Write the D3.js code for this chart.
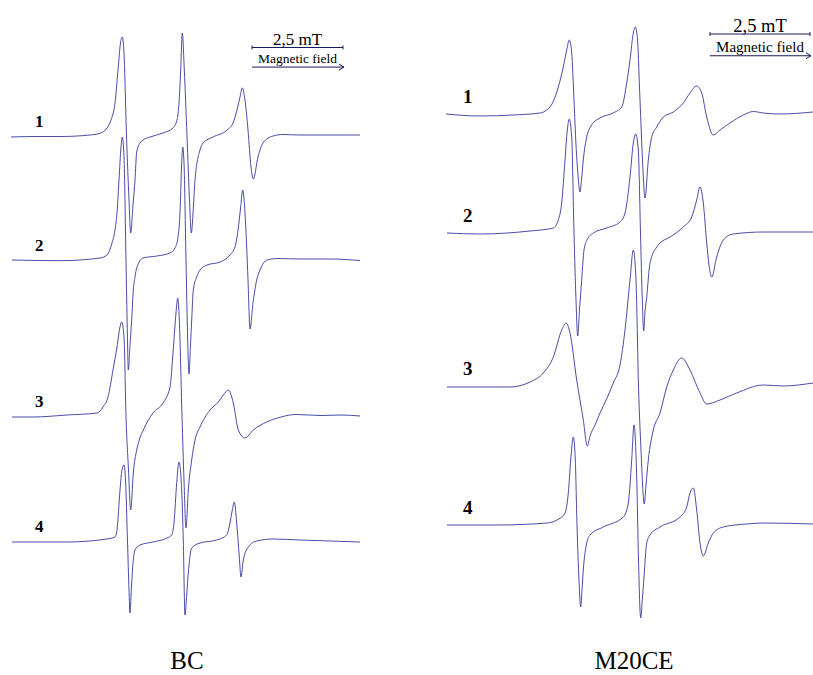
<!DOCTYPE html>
<html>
<head>
<meta charset="utf-8">
<script src="https://cdn.jsdelivr.net/npm/d3@7"></script>
<style>
  html, body { margin: 0; padding: 0; background: #fff; }
  svg { display: block; }
  text { font-family: "Liberation Serif", "Times New Roman", serif; fill: #000; }
</style>
</head>
<body>
<svg id="chart" width="813" height="675"></svg>
<script>
// EPR spectra: [field (channel), signal (a.u.)], baseline at 0.
// BC series
const bc1 = [[0,-1],[24,-0.5],[49,-0.5],[79,1],[89,2.7],[96,8],[100,16],[104,33],[107,66],[109.5,93],[111.3,99],[113,83],
  [115.5,0],[118,-64],[119.7,-97],[122,-69],[124,-44],[125.7,-16],[129,-7],[132,-4],[139,-1],[152,3],[162,8],[166,16],
  [168,33],[169.7,66],[171.3,103],[173.3,66],[176,0],[178.5,-64],[180.3,-97],[182.5,-69],[184,-44],[189,-14],[192,-7],
  [202,-1],[216,6],[222,13],[226,26],[229,39],[231.3,48],[234,36],[237,6],[240,-31],[242.3,-43],[247,-21],[252,-7],
  [262,0],[272,1.5],[289,1],[319,1],[349,1]];
const bc2 = [[1,0],[49,-0.7],[89,2],[96,5],[101,17],[104,30],[106,47],[108,80],[110,113],[111.3,123],[113,103],[115,0],
  [116.3,-70],[117.3,-110],[119,-85],[120.7,-60],[122.3,-30],[124,-17],[125.7,-8],[132,2],[146,4],[159,7],[164,12],
  [167,23],[169,47],[170.7,97],[171.7,113],[173,97],[175,0],[176.7,-80],[178,-114],[179.5,-85],[180.7,-60],[182.3,-30],
  [185.7,-17],[189,-10],[196,-5],[209,-2],[219,5],[224,13],[227,30],[229.7,53],[231.7,70],[234,47],[235.7,13],[237,-20],
  [239,-69],[242,-43],[245.7,-20],[249,-10],[256,0],[266,1.5],[289,1],[319,1],[349,-0.5]];
const bc3 = [[1,-1],[22,-1],[56,1],[86,3],[92,9],[97,19],[102,46],[106,69],[109,89],[110.7,94],[113,79],[115,0],
  [117.5,-54],[119.7,-94],[122.3,-57],[125.7,-34],[128.3,-24],[132.3,-14],[142,3],[152,13],[159,29],[162,63],[165,103],
  [166.7,118],[168.3,96],[171,0],[173,-64],[175,-112],[177.3,-74],[180.7,-44],[184,-24],[189,-11],[199,6],[207.3,14],
  [212.3,21],[217.3,26],[222.3,13],[227.3,-14],[234,-22],[242.3,-14],[255.7,-6],[270,-1],[285,1.5],[310,0.5],[330,1],[349,0]];
const bc4 = [[1,-1],[56,-1],[96,2],[104,4],[106,11],[109,51],[111,71],[113,76],[114.5,61],[116.5,0],[118,-49],[119,-72],
  [120.3,-49],[121.7,-26],[124,-9],[129,-4],[142,-1],[156,3],[160.7,6],[163,18],[165.7,58],[168,79],[170.7,51],[172.3,0],
  [174,-74],[175.7,-54],[177.3,-32],[180.7,-7],[189,-2],[205.7,1],[215.7,6],[219,18],[221.3,31],[223.3,39],[225.7,18],
  [228.3,-16],[230,-36],[232.3,-19],[237.3,-6],[245.7,0],[262,2],[289,1],[349,-1]];

// M20CE series
const m1 = [[0,0],[34,-2],[67,-1],[94,1],[100.7,4],[107,12],[112.3,27],[117.3,47],[120.7,64],[123.3,74],[125.7,61],
  [128,14],[130,-31],[132,-61],[134,-78],[135.7,-64],[137.3,-46],[140.7,-23],[145.7,-11],[154,-4],[167,1],[175.7,7],
  [180.7,31],[184,54],[187.3,81],[189.3,87],[191.3,77],[194,14],[196.5,-46],[199,-84],[202.3,-46],[205.7,-23],
  [210.7,-13],[217.3,-3],[227.3,2],[237.3,11],[244,21],[250.7,28],[255.7,21],[260.7,-3],[267.3,-21],[274,-16],[284,-9],
  [297.3,-1],[307.3,2.5],[317.3,1],[334,0],[367,2]];
const m2 = [[1,0],[34,-1],[84,2],[107.3,5],[112.3,13],[115.7,30],[119,73],[121.3,103],[123.3,114],[125.7,96],[128,0],
  [130,-67],[131.7,-103],[133.5,-77],[135.7,-47],[138,-17],[141,-7],[147.3,0],[160.7,5],[174,11],[179,20],[184,56],
  [187.3,90],[189.7,99],[192.3,83],[194.5,0],[196.3,-67],[197.7,-98],[199,-79],[200.7,-64],[204,-30],[210.7,-14],
  [214,-10],[224,-4],[237.3,6],[245.7,16],[250.7,33],[254,46],[257.3,30],[260.7,-10],[263,-32],[265.7,-44],[270.7,-24],
  [277.3,-7],[287.3,-1],[317.3,1],[367,1]];
const m3 = [[1,-1],[34,-1],[64,-1],[84,4],[97.3,13],[107.3,29],[115.7,56],[120,63],[124,53],[130.7,6],[137.3,-34],
  [141.3,-60],[144,-50],[149,-39],[154,-27],[161,-12],[167.3,3],[174,21],[179,56],[184,106],[187.3,136],[190,106],
  [192.5,0],[195,-64],[198.3,-118],[200,-99],[202.3,-74],[207.3,-44],[214,-27],[220.7,-1],[227.3,16],[235.7,28],[244,16],
  [254,-7],[260.7,-18],[274,-14],[290.7,-7],[317.3,1],[337.3,0],[367,3]];
const m4 = [[1,0],[51,0],[101,2],[111,5],[119,12],[122.3,32],[124.7,65],[127.3,88],[129.3,65],[131,0],[133,-55],
  [134.7,-82],[136,-65],[137.3,-45],[140.7,-18],[144,-10],[157.3,-2],[177.3,8],[182.3,22],[185.7,65],[188,100],
  [190.7,48],[192.5,-35],[194.7,-93],[196.3,-75],[198,-52],[200.7,-18],[204,-10],[214,-2],[234,8],[240.7,18],[244,32],
  [247.3,37],[250.7,15],[254,-18],[257.3,-31],[262.3,-18],[267.3,-8],[277.3,-2],[300.7,1],[317.3,2],[367,1]];

const traceLabels = ["1", "2", "3", "4"];
const panelTitles = ["BC", "M20CE"];
const scaleBarMT = 2.5;

// Panel layout
const panels = [
  { title: panelTitles[0], series: [bc1, bc2, bc3, bc4], fieldMax: 349, x0: 11, x1: 360,
    baselines: [136, 260, 416, 541], labelX: 35, labelDy: -9, labelSize: 17,
    chPerMT: 36.4, barStart: 241, barY: 47.5, barFont: 17, fieldFont: 13.5,
    titleX: 187 },
  { title: panelTitles[1], series: [m1, m2, m3, m4], fieldMax: 367, x0: 446, x1: 813,
    baselines: [114, 233, 386, 525], labelX: 463, labelDy: -11, labelSize: 19,
    chPerMT: 40, barStart: 264, barY: 34, barFont: 18.5, fieldFont: 15,
    titleX: 634 }
];

const svg = d3.select("#chart");
const stroke = "#37379c";

const amp = d3.scaleLinear().domain([0, 100]).range([0, -100]);

panels.forEach(p => {
  const x = d3.scaleLinear().domain([0, p.fieldMax]).range([p.x0, p.x1]);
  const line = d3.line()
    .x(d => x(d[0]))
    .y(d => amp(d[1]))
    .curve(d3.curveMonotoneX);

  const g = svg.append("g");

  p.series.forEach((s, i) => {
    const tg = g.append("g").attr("transform", `translate(0,${p.baselines[i]})`);
    tg.append("path")
      .datum(s)
      .attr("d", line)
      .attr("fill", "none")
      .attr("stroke", stroke)
      .attr("stroke-width", 0.9)
      .attr("stroke-linejoin", "round");
    tg.append("text")
      .attr("x", p.labelX)
      .attr("y", p.labelDy)
      .attr("font-size", p.labelSize)
      .attr("font-weight", "bold")
      .text(traceLabels[i]);
  });

  // 2,5 mT scale bar
  const bx0 = x(p.barStart), bx1 = x(p.barStart + scaleBarMT * p.chPerMT);
  const bar = g.append("g").attr("stroke", "#1a1a5a").attr("stroke-width", 1);
  bar.append("line").attr("x1", bx0).attr("x2", bx1).attr("y1", p.barY).attr("y2", p.barY);
  [bx0, bx1].forEach(bx => bar.append("line")
    .attr("x1", bx).attr("x2", bx).attr("y1", p.barY - 2).attr("y2", p.barY + 2));
  g.append("text")
    .attr("x", (bx0 + bx1) / 2)
    .attr("y", p.barY - 2.5)
    .attr("text-anchor", "middle")
    .attr("font-size", p.barFont)
    .text("2,5 mT");

  // field direction arrow
  const ay = p.barY + p.fieldFont * 1.45;
  const arr = g.append("g").attr("stroke", "#1a1a5a").attr("stroke-width", 1).attr("fill", "none");
  arr.append("line").attr("x1", bx0).attr("x2", bx1 + 1).attr("y1", ay).attr("y2", ay);
  arr.append("path").attr("d", `M${bx1 - 4},${ay - 3}L${bx1 + 1},${ay}L${bx1 - 4},${ay + 3}`);
  g.append("text")
    .attr("x", (bx0 + bx1) / 2)
    .attr("y", ay - 4)
    .attr("text-anchor", "middle")
    .attr("font-size", p.fieldFont)
    .text("Magnetic field");

  g.append("text")
    .attr("x", p.titleX)
    .attr("y", 669)
    .attr("text-anchor", "middle")
    .attr("font-size", 25)
    .text(p.title);
});
</script>
</body>
</html>
